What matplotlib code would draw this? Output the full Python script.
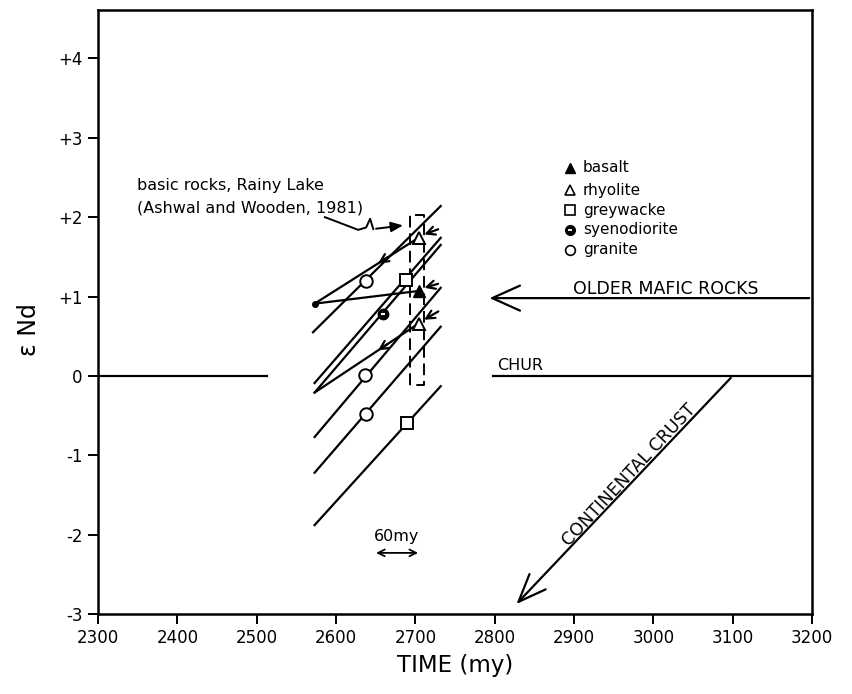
import numpy as np
import matplotlib.pyplot as plt

# lineas de evolucion (tiempo en my, eps Nd)
lin_t0 = [2571, 2573, 2573, 2573, 2573, 2573]
lin_t1 = [2732, 2732, 2732, 2732, 2732, 2732]
lin_e0 = [0.55, -0.09, -0.21, -0.77, -1.22, -1.88]
lin_e1 = [2.14, 1.74, 1.65, 1.11, 0.62, -0.13]

# volcanicas: recta de menor pendiente desde el simbolo hacia la izquierda
volc_t0 = [2704, 2704, 2704]
volc_e0 = [1.74, 1.07, 0.66]
volc_t1 = [2573, 2573, 2573]
volc_e1 = [0.91, 0.91, -0.21]
# flechas cortas que llegan desde la derecha
flecha_t = [2732, 2732, 2732]
flecha_e = [1.86, 1.17, 0.83]

basalto = ([2704], [1.07])
riolita = ([2704, 2704], [1.74, 0.66])
grauvaca = ([2688, 2689], [1.21, -0.59])
sienodiorita = ([2659], [0.78])
granito = ([2638, 2637, 2638], [1.20, 0.01, -0.48])

# rectangulo de Ashwal and Wooden (1981)
caja_t = [2693, 2711]
caja_e = [-0.11, 2.03]

# flecha ondulada del rotulo
onda_t = [2586, 2628, 2638, 2643, 2647]
onda_e = [2.00, 1.84, 1.87, 1.98, 1.85]
onda_fin = (2688, 1.90)

chur_izq = [2300, 2513]
chur_der = [2798, 3200]
mafic_t = [3200, 2790]
mafic_e = 0.98
corteza_t = [3100, 2825]
corteza_e = [0.0, -2.9]

xticks = [2300, 2400, 2500, 2600, 2700, 2800, 2900, 3000, 3100, 3200]
yticks = [-3, -2, -1, 0, 1, 2, 3, 4]
ylabels = ["-3", "-2", "-1", "0", "+1", "+2", "+3", "+4"]

plt.rcParams['font.family'] = ['DejaVu Sans']
fig = plt.figure(figsize=(8.53, 6.94), dpi=100)
ax = fig.add_axes([98/853, 1-614/694, (812-98)/853, (614-10)/694])
ax.set_xlim(2300, 3200)
ax.set_ylim(-3, 4.61)

lw = 1.6
for t0, t1, e0, e1 in zip(lin_t0, lin_t1, lin_e0, lin_e1):
    ax.plot([t0, t1], [e0, e1], color='k', lw=lw, zorder=2)

for t0, e0, t1, e1, ft, fe in zip(volc_t0, volc_e0, volc_t1, volc_e1, flecha_t, flecha_e):
    ax.plot([t0, t1], [e0, e1], color='k', lw=lw, zorder=2)
    ax.annotate('', xy=(t0 + 4, e0 + 0.03), xytext=(ft, fe),
                arrowprops=dict(arrowstyle='->,head_length=0.5,head_width=0.25',
                                color='k', lw=lw, mutation_scale=12))

# puntas de flecha sobre las rectas de las riolitas
for i in [0, 2]:
    tt = np.array([volc_t1[i], volc_t0[i]])
    ee = np.array([volc_e1[i], volc_e0[i]])
    ta, tb = 2668, 2650
    ax.annotate('', xy=(tb, np.interp(tb, tt, ee)), xytext=(ta, np.interp(ta, tt, ee)),
                arrowprops=dict(arrowstyle='->,head_length=0.5,head_width=0.25',
                                color='k', lw=lw, mutation_scale=12))
ax.plot([volc_t1[0]], [volc_e1[0]], 'o', color='k', ms=4, zorder=3)

ms = 9
ax.plot(*basalto, '^', color='k', ms=ms, zorder=4)
ax.plot(*riolita, '^', mfc='white', mec='k', mew=1.4, ms=ms, zorder=4)
ax.plot(*grauvaca, 's', mfc='white', mec='k', mew=1.4, ms=ms - 1, zorder=4)
ax.plot(*sienodiorita, 'o', color='k', ms=ms - 1.5, zorder=4)
ax.plot(*sienodiorita, '_', color='white', ms=3.5, mew=1.5, zorder=5)
ax.plot(*granito, 'o', mfc='white', mec='k', mew=1.4, ms=ms, zorder=4)

ax.plot([caja_t[0], caja_t[0], caja_t[1], caja_t[1], caja_t[0]],
        [caja_e[0], caja_e[1], caja_e[1], caja_e[0], caja_e[0]],
        color='k', lw=1.4, ls=(0, (6, 3)), zorder=3)

ax.text(2349, 2.40, "basic rocks, Rainy Lake", fontsize=11.5, va='center')
ax.text(2349, 2.11, "(Ashwal and Wooden, 1981)", fontsize=11.5, va='center')
ax.plot(onda_t, onda_e, color='k', lw=1.4)
ax.annotate('', xy=onda_fin, xytext=(onda_t[-1], onda_e[-1]),
            arrowprops=dict(arrowstyle='-|>,head_length=0.6,head_width=0.25',
                            color='k', lw=1.4, mutation_scale=12))

# leyenda
ley_t, ley_tt = 2895, 2911
ley_e = [2.62, 2.34, 2.09, 1.84, 1.59]
ax.plot(ley_t, ley_e[0], '^', color='k', ms=7)
ax.plot(ley_t, ley_e[1], '^', mfc='white', mec='k', mew=1.2, ms=7)
ax.plot(ley_t, ley_e[2], 's', mfc='white', mec='k', mew=1.2, ms=6.5)
ax.plot(ley_t, ley_e[3], 'o', color='k', ms=7)
ax.plot(ley_t, ley_e[3], '_', color='white', ms=3.5, mew=1.3)
ax.plot(ley_t, ley_e[4], 'o', mfc='white', mec='k', mew=1.2, ms=7)
for e, nombre in zip(ley_e, ["basalt", "rhyolite", "greywacke", "syenodiorite", "granite"]):
    ax.text(ley_tt, e, nombre, fontsize=11, va='center')

ax.plot(chur_izq, [0, 0], color='k', lw=lw)
ax.plot(chur_der, [0, 0], color='k', lw=lw)
ax.text(2803, 0.13, "CHUR", fontsize=11.5, va='center')

ax.annotate('', xy=(mafic_t[1], mafic_e), xytext=(mafic_t[0], mafic_e),
            arrowprops=dict(arrowstyle='->,head_length=1.0,head_width=0.45',
                            color='k', lw=lw, mutation_scale=20))
ax.text(2899, 1.10, "OLDER MAFIC ROCKS", fontsize=12.5, va='center')

ax.annotate('', xy=(corteza_t[1], corteza_e[1]), xytext=(corteza_t[0], corteza_e[0]),
            arrowprops=dict(arrowstyle='->,head_length=1.0,head_width=0.4',
                            color='k', lw=lw, mutation_scale=20))
ax.text(2970, -1.25, "CONTINENTAL CRUST", fontsize=12.5, rotation=47,
        ha='center', va='center', rotation_mode='anchor')

ax.text(2676, -2.02, "60my", fontsize=11.5, ha='center', va='center')
ax.annotate('', xy=(2707, -2.23), xytext=(2647, -2.23),
            arrowprops=dict(arrowstyle='<->,head_length=0.4,head_width=0.2',
                            color='k', lw=1.3, mutation_scale=12))

ax.set_xticks(xticks)
ax.set_xticklabels([str(t) for t in xticks], fontsize=12)
ax.set_yticks(yticks)
ax.set_yticklabels(ylabels, fontsize=12)
ax.tick_params(direction='out', length=7, width=1.4, pad=4)
for s in ax.spines.values():
    s.set_linewidth(1.8)
ax.set_xlabel("TIME (my)", fontsize=16.5, labelpad=5)
ax.set_ylabel("ε Nd", fontsize=17)
ax.yaxis.set_label_coords(-0.08, (614 - 330) / 604)

plt.savefig("out.png")
